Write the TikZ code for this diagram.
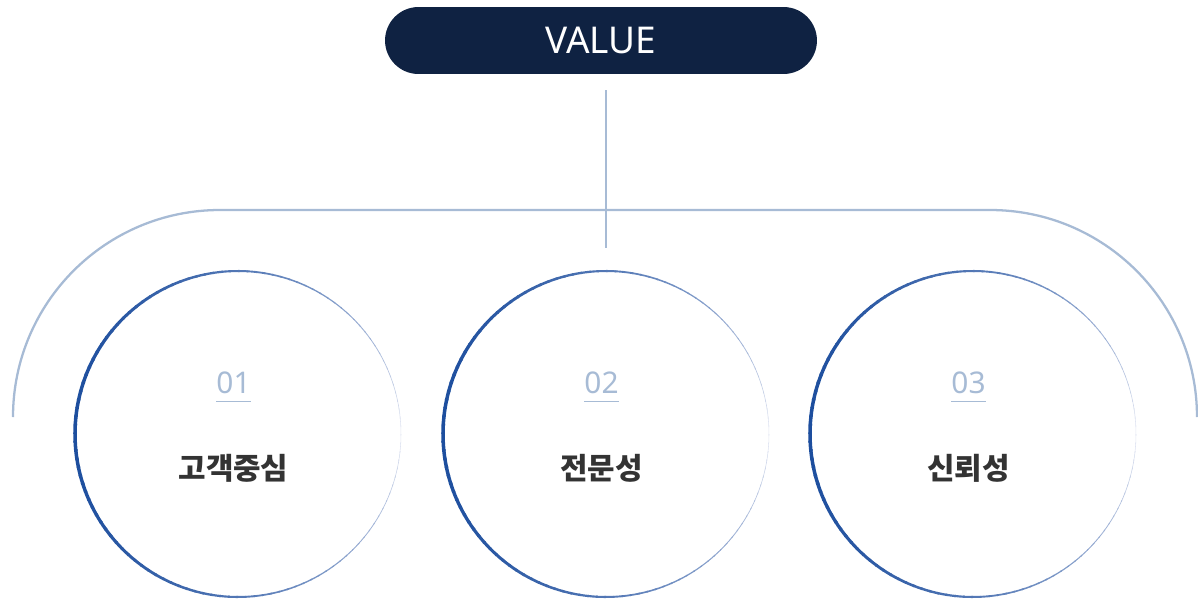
\documentclass[tikz,border=0pt]{standalone}
\usepackage{fontspec}
\setmainfont{Noto Sans}
\newfontfamily\krfont{Noto Sans CJK KR}
\usetikzlibrary{positioning}

\definecolor{navy}{HTML}{0F2242}
\definecolor{paleline}{HTML}{A7BBD5}
\definecolor{ringblue}{HTML}{1D4E9E}
\definecolor{ringpale}{HTML}{E6E9F4}
\definecolor{darktext}{HTML}{333333}

\tikzset{
	valuebox/.style = {fill = navy, text = white, rounded corners = 0.67cm,
		minimum width = 8.64cm, minimum height = 1.34cm, inner sep = 0,
		font = \fontsize{21}{24}\selectfont},
	ring/.style = {circle, minimum size = 6.52cm, inner sep = 0},
	numlbl/.style = {text = paleline, inner sep = 0, font = \fontsize{17}{20}\selectfont},
	namelbl/.style = {text = darktext, inner sep = 0, font = \krfont\bfseries\fontsize{17}{20}\selectfont},
	guide/.style = {draw = paleline, line width = 1.3pt}
}

\begin{document}
\begin{tikzpicture}[x = 0.02cm, y = -0.02cm]

	\useasboundingbox (0, 0) rectangle (1198, 599);

	% Value banner and stem

	\node [valuebox] (value) at (601, 40.5) {VALUE};
	\coordinate (stem) at (606, 248);
	\draw [guide] ([yshift = -9pt] value.south -| stem) -- (stem);

	% Outer bracket

	\coordinate (archL) at (13, 417);
	\coordinate (archR) at (990, 210);
	\draw [guide] (archL) arc [start angle = 180, end angle = 270, radius = 207]
		-- (archR) arc [start angle = 270, end angle = 360, radius = 207];

	% Circles with fading rims

	\foreach \i/\x/\s in {1/238/고객중심, 2/606/전문성, 3/973/신뢰성} {
		\node [ring] (c\i) at (\x, 434) {};
		\foreach \a in {0, 3, ..., 357} {
			\pgfmathsetmacro\t{(1 - cos(\a + 1.5)) / 2}
			\pgfmathsetmacro\w{0.3 + 1.7 * \t}
			\pgfmathsetmacro\m{round(100 * (\t)^0.45)}
			\draw [line width = \w pt, draw = ringblue!\m!ringpale]
				(c\i.center) ++(\a:163) arc [start angle = \a, end angle = \a + 3.6, radius = 163];
		}
		\node [numlbl, anchor = base] (n\i) at (\x - 4.5, 393) {0\i};
		\draw [draw = paleline, line width = 0.7pt]
			([yshift = -5pt] n\i.base west) -- ([yshift = -5pt] n\i.base east);
		\node [namelbl, anchor = base] (t\i) at (\x - 4.5, 479) {\s};
	}

\end{tikzpicture}
\end{document}
